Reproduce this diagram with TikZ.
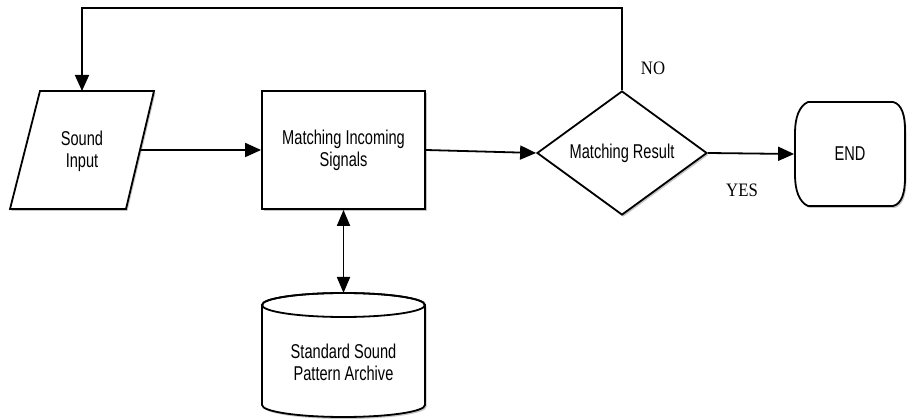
\documentclass[tikz,border=0pt]{standalone}
\usepackage{fontspec}
\usetikzlibrary{shapes.geometric,arrows.meta,shadows}
\newfontfamily\nodefont[FakeStretch=0.73]{Liberation Sans}
\newfontfamily\labelfont[FakeStretch=0.88]{Liberation Serif}
\begin{document}
\begin{tikzpicture}[x=1pt,y=-1pt,
  line width=1.8pt,
  shade/.style={drop shadow={shadow xshift=1.5pt,shadow yshift=-2pt,fill=black!45,opacity=0.5}},
  txt/.style={font=\nodefont\fontsize{20}{22}\selectfont,align=center,inner sep=0pt},
  lbl/.style={font=\labelfont\fontsize{19}{22}\selectfont,inner sep=0pt},
  flow/.style={-{Triangle[length=16pt,width=14pt]}},
  both/.style={{Triangle[length=16pt,width=13pt]}-{Triangle[length=16pt,width=13pt]}}]
\useasboundingbox (0,0) rectangle (907,419);

% input (parallelogram)
\path[draw,fill=white,shade] (40,91) -- (154,91) -- (126,209) -- (10,209) -- cycle;
\node[txt] (input) at (82,151) {Sound\\Input};
\coordinate (inTop) at (82,91);
\coordinate (inRight) at (140,150);

% process box
\node[txt,draw,fill=white,shade,minimum width=163pt,minimum height=118pt] (match) at (343.5,150) {Matching Incoming\\Signals};

% decision
\node[txt,diamond,draw,fill=white,shade,minimum width=170pt,minimum height=124pt] (result) at (622,153) {Matching Result};

% terminator with bulged sides
\path[draw,fill=white,shade] (808,102) -- (893,102)
  .. controls (902,104) and (905,116) .. (905,130) -- (905,178)
  .. controls (905,192) and (902,204) .. (893,206) -- (808,206)
  .. controls (799,202) and (795,190) .. (795,175) -- (795,133)
  .. controls (795,118) and (799,106) .. (808,102) -- cycle;
\node[txt,minimum width=110pt,minimum height=104pt] (end) at (850,154) {END};

% archive (cylinder)
\path[draw,fill=white,shade] (262,305) -- (262,405) arc[start angle=180,end angle=360,x radius=81.5pt,y radius=12pt]
  -- (425,305) arc[start angle=0,end angle=180,x radius=81.5pt,y radius=12pt] -- cycle;
\draw (343.5,305) ellipse[x radius=81.5pt,y radius=12pt];
\node[txt] (archive) at (343.5,362) {Standard Sound\\Pattern Archive};
\coordinate (archTop) at (343.5,293);

% connectors
\draw[flow] (inRight) -- (match.west);
\draw[flow] (match.east) -- (result.west);
\draw[flow] (result.east) -- (end.west);
\draw[both] (match.south) -- (archTop);
\coordinate (loopR) at (622,8);
\coordinate (loopL) at (82,8);
\draw[flow] (result.north) -- (loopR) -- (loopL) -- (inTop);

% branch labels
\node[lbl] (no) at (653,68) {NO};
\node[lbl] (yes) at (742,190) {YES};
\end{tikzpicture}
\end{document}
